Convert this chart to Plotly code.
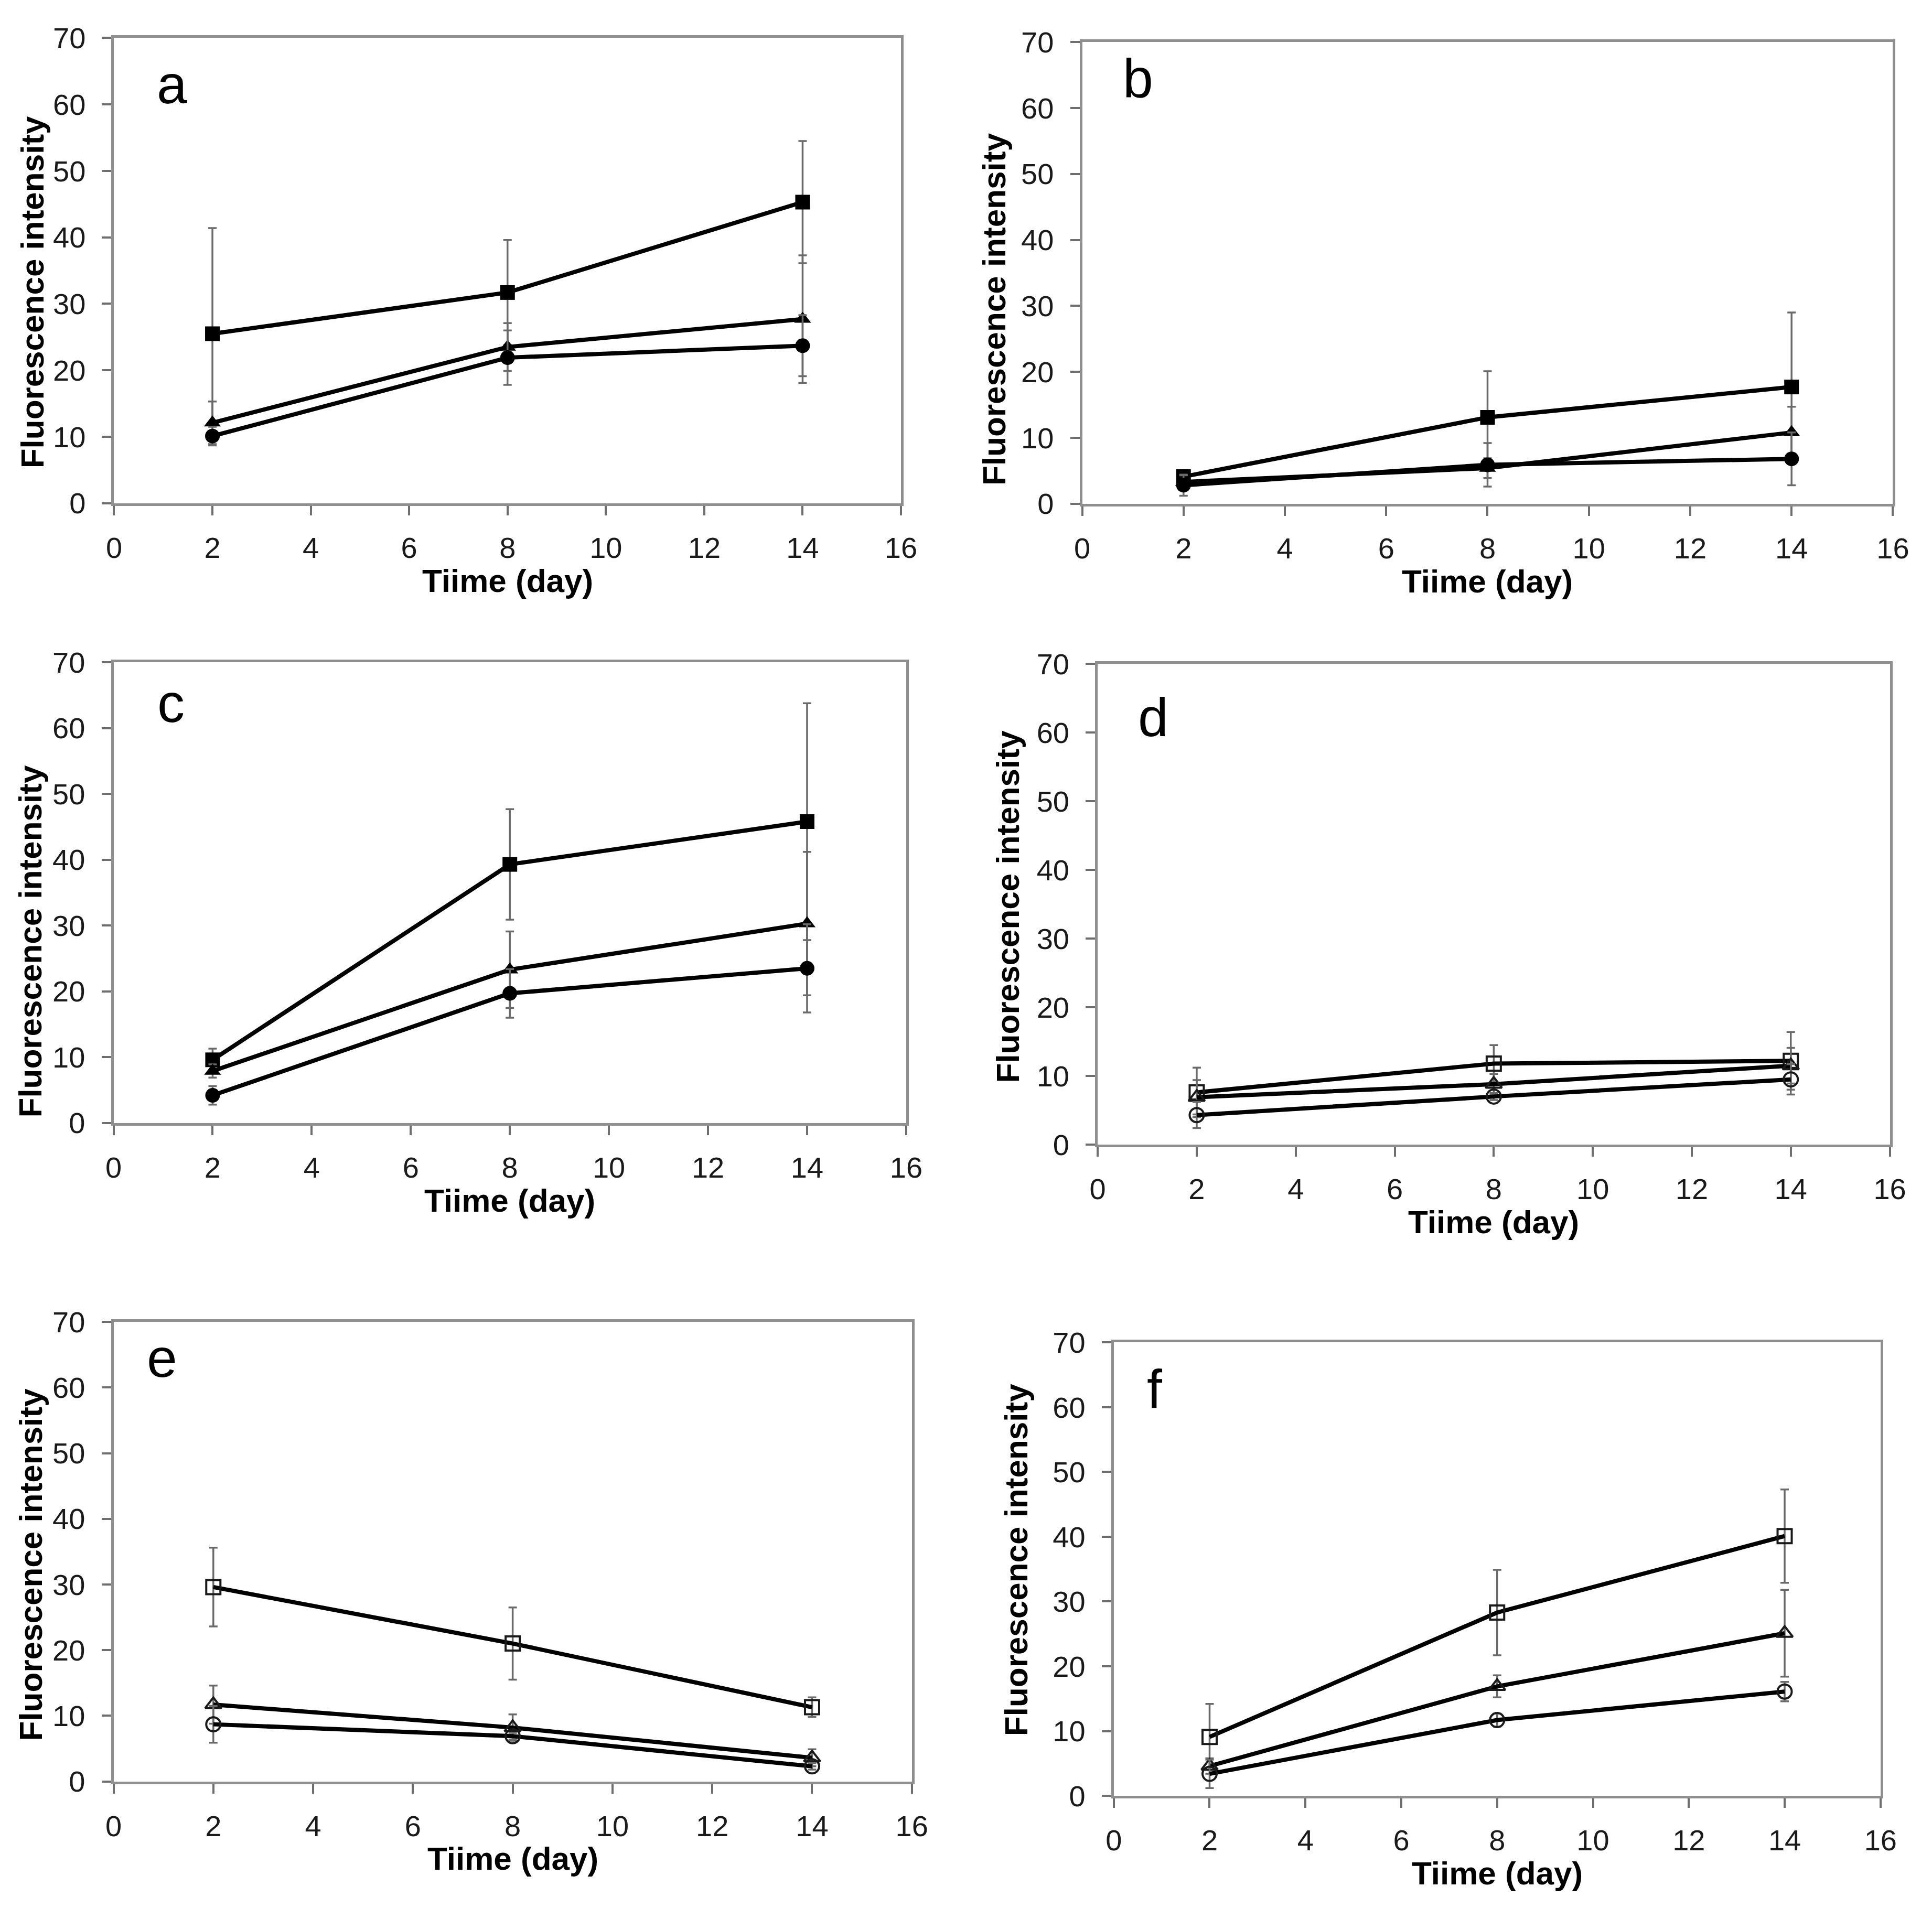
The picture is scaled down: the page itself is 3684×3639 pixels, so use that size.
import plotly.graph_objects as go

# page body has an 8px default margin on every side; size the figure so the page fits the window
OFF = 8
W, H = 3684 - 2 * OFF, 3639 - 2 * OFF

days = [2, 8, 14]

# ---- panel a (filled markers) ----
a_sq = [25.5, 31.7, 45.3]
a_sq_err = [15.9, 7.9, 9.2]
a_tri = [12.1, 23.5, 27.7]
a_tri_err = [3.2, 3.6, 9.6]
a_cir = [10.1, 21.9, 23.7]
a_cir_err = [1.4, 4.1, 4.6]

# ---- panel b ----
b_sq = [4.1, 13.1, 17.7]
b_sq_err = [1.0, 7.0, 11.3]
b_tri = [3.3, 5.4, 10.8]
b_tri_err = [1.0, 1.5, 3.9]
b_cir = [2.8, 5.9, 6.8]
b_cir_err = [1.6, 3.3, 4.0]

# ---- panel c ----
c_sq = [9.6, 39.3, 45.8]
c_sq_err = [1.7, 8.4, 18.0]
c_tri = [7.9, 23.3, 30.3]
c_tri_err = [1.0, 5.8, 10.9]
c_cir = [4.2, 19.7, 23.5]
c_cir_err = [1.4, 3.7, 6.7]

# ---- panel d (open markers) ----
d_sq = [7.6, 11.8, 12.2]
d_sq_err = [3.6, 2.7, 4.2]
d_tri = [6.9, 8.8, 11.5]
d_tri_err = [2.5, 1.5, 2.6]
d_cir = [4.3, 7.0, 9.5]
d_cir_err = [1.9, 0.5, 2.2]

# ---- panel e ----
e_sq = [29.6, 21.0, 11.3]
e_sq_err = [6.0, 5.5, 1.5]
e_tri = [11.7, 8.2, 3.6]
e_tri_err = [2.9, 2.0, 1.3]
e_cir = [8.7, 6.9, 2.3]
e_cir_err = [2.8, 0.5, 0.5]

# ---- panel f ----
f_sq = [9.1, 28.3, 40.1]
f_sq_err = [5.1, 6.6, 7.2]
f_tri = [4.6, 16.9, 25.1]
f_tri_err = [1.2, 1.7, 6.7]
f_cir = [3.4, 11.7, 16.1]
f_cir_err = [2.2, 1.0, 1.5]

panel_letters = ["a", "b", "c", "d", "e", "f"]
x_title = "Tiime (day)"
y_title = "Fluorescence intensity"
x_ticks = [0, 2, 4, 6, 8, 10, 12, 14, 16]
y_ticks = [0, 10, 20, 30, 40, 50, 60, 70]

# plot-area boxes in reference pixels: (left, right, top, bottom)
boxes = [
    (204, 1724, 42, 945),
    (2074, 3640, 50, 946),
    (203, 1734, 1254, 2148),
    (2104, 3634, 1257, 2190),
    (203, 1745, 2534, 3426),
    (2135, 3616, 2574, 3454),
]
letter_pos = [(316, 132), (2182, 120), (314, 1333), (2211, 1361), (297, 2604), (2214, 2664)]
ytitle_pos = [(46, 536), (1904, 569), (42, 1796), (1930, 1728), (43, 3006), (1946, 2996)]
xtitle_offset = 150  # title centre below the x axis

panels = [
    (a_sq, a_sq_err, a_tri, a_tri_err, a_cir, a_cir_err, False),
    (b_sq, b_sq_err, b_tri, b_tri_err, b_cir, b_cir_err, False),
    (c_sq, c_sq_err, c_tri, c_tri_err, c_cir, c_cir_err, False),
    (d_sq, d_sq_err, d_tri, d_tri_err, d_cir, d_cir_err, True),
    (e_sq, e_sq_err, e_tri, e_tri_err, e_cir, e_cir_err, True),
    (f_sq, f_sq_err, f_tri, f_tri_err, f_cir, f_cir_err, True),
]

TICK_FONT = dict(family="Liberation Sans Narrow, Arial Narrow, Liberation Sans, Arial, sans-serif",
                 size=56, color="#1a1a1a")
TITLE_FONT = dict(family="Liberation Sans, Arial, sans-serif", size=62, color="#000000")
AXIS_COLOR = "#8f8f8f"


def px(xp):
    return (xp - OFF) / W


def py(yp):
    return 1 - (yp - OFF) / H


fig = go.Figure()
layout = dict(width=W, height=H, autosize=False, showlegend=False,
              margin=dict(l=0, r=0, t=0, b=0),
              paper_bgcolor="white", plot_bgcolor="white")
annotations = []

for i, (sq, sqe, tri, trie, cir, cire, is_open) in enumerate(panels):
    n = i + 1
    xa = "x" if n == 1 else f"x{n}"
    ya = "y" if n == 1 else f"y{n}"
    l, r, t, b = boxes[i]
    xkey = "xaxis" if n == 1 else f"xaxis{n}"
    ykey = "yaxis" if n == 1 else f"yaxis{n}"
    layout[xkey] = dict(domain=[px(l), px(r)], range=[0, 16], tickvals=x_ticks,
                        anchor=ya, showgrid=False, zeroline=False,
                        showline=True, mirror=True, linecolor=AXIS_COLOR, linewidth=5,
                        ticks="outside", ticklen=18, tickwidth=4, tickcolor="#6e6e6e",
                        tickfont=TICK_FONT, ticklabelstandoff=14)
    layout[ykey] = dict(domain=[py(b), py(t)], range=[0, 70], tickvals=y_ticks,
                        anchor=xa, showgrid=False, zeroline=False,
                        showline=True, mirror=True, linecolor=AXIS_COLOR, linewidth=5,
                        ticks="outside", ticklen=18, tickwidth=4, tickcolor="#6e6e6e",
                        tickfont=TICK_FONT, ticklabelstandoff=20)
    symbols = ["square", "triangle-up", "circle"]
    if is_open:
        symbols = [s + "-open" for s in symbols]
    for vals, errs, sym in zip([sq, tri, cir], [sqe, trie, cire], symbols):
        if is_open:
            marker = dict(symbol=sym, size=27, color="#1a1a1a", line=dict(width=4, color="#1a1a1a"))
        else:
            marker = dict(symbol=sym, size=28, color="#000000", line=dict(width=0))
        fig.add_trace(go.Scatter(
            x=days, y=vals, xaxis=xa, yaxis=ya, mode="lines+markers",
            line=dict(color="#000000", width=8),
            marker=marker,
            error_y=dict(type="data", array=errs, visible=True, color="#6a6a6a",
                         thickness=3.5, width=8),
            hoverinfo="skip"))
    lx, ly = letter_pos[i]
    annotations.append(dict(x=px(lx), y=py(ly), xref="paper", yref="paper",
                            text=panel_letters[i], showarrow=False,
                            xanchor="center", yanchor="middle",
                            font=dict(family="Liberation Sans, Arial, sans-serif", size=104, color="#000")))
    tx, ty = ytitle_pos[i]
    annotations.append(dict(x=px(tx), y=py(ty), xref="paper", yref="paper",
                            text=f"<b>{y_title}</b>", showarrow=False, textangle=-90,
                            xanchor="center", yanchor="middle", font=TITLE_FONT))
    annotations.append(dict(x=px((l + r) / 2), y=py(b + xtitle_offset), xref="paper", yref="paper",
                            text=f"<b>{x_title}</b>", showarrow=False,
                            xanchor="center", yanchor="middle", font=TITLE_FONT))

layout["annotations"] = annotations
fig.update_layout(**layout)
fig.write_html("out.html")
